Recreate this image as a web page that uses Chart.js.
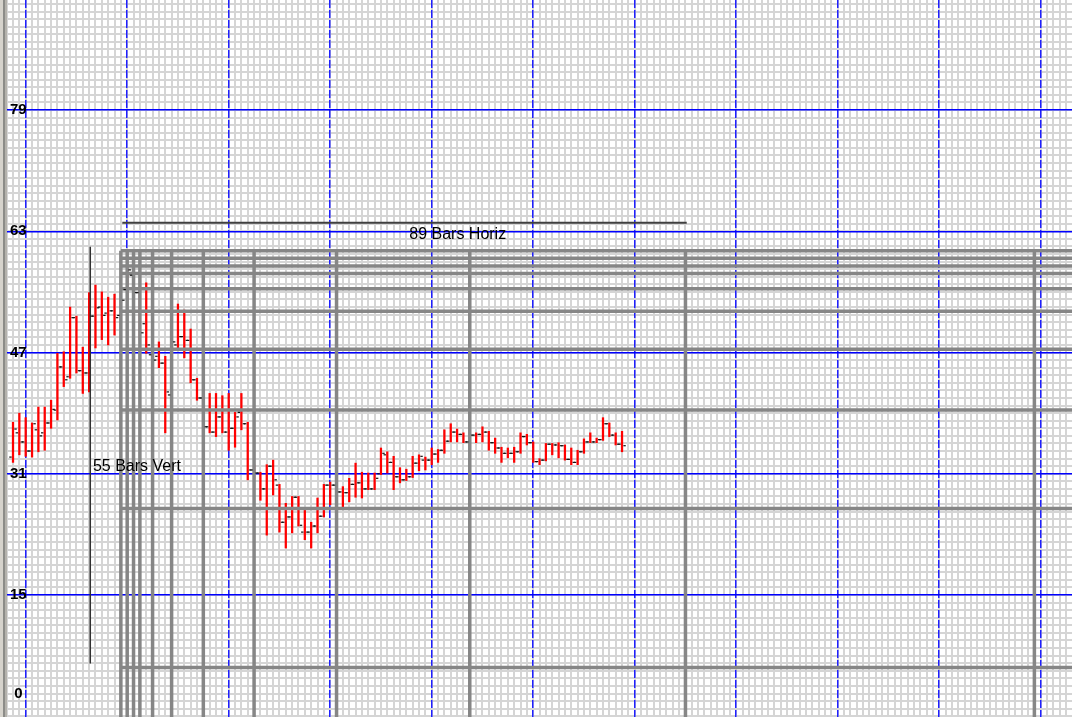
<!DOCTYPE html>
<html>
<head>
<meta charset="utf-8">
<script src="https://cdn.jsdelivr.net/npm/chart.js@4.4.1/dist/chart.umd.min.js"></script>
<style>
  html, body { margin: 0; padding: 0; background: #fff; overflow: hidden; }
  #wrap { position: relative; width: 1072px; height: 717px; }
  #edge { position: absolute; left: 0; top: 0; width: 7px; height: 717px;
    background: linear-gradient(to right, #d6d3cc 0, #d6d3cc 3px, #8c8c88 3px, #8c8c88 5px, #b4b2ac 5px, #b4b2ac 7px); }
</style>
</head>
<body>
<div id="wrap"><canvas id="chart" width="1072" height="717"></canvas><div id="edge"></div></div>
<script>
/* OHLC bar chart with Fibonacci time / price grid */

// ===== data (bar index 0..96) =====
var opens = [
  33.2, 36.4, 35.2, 34.0, 36.8, 36.4, 37.7, 39.4, 45.1, 43.8,
  51.6, 44.6, 44.3, 51.8, 53.0, 52.2, 52.5, 51.9, 55.3, 57.2,
  54.9, 50.8, 46.7, 46.5, 45.6, 41.4, 48.0, 49.1, 48.6, 43.4,
  41.0, 37.2, 36.5, 38.5, 36.5, 37.0, 39.1, 37.6, 31.5, 31.1,
  29.0, 32.0, 29.5, 24.6, 25.3, 27.9, 23.3, 23.3, 24.1, 25.4,
  29.5, 29.5, 28.6, 28.5, 29.6, 29.8, 29.0, 29.0, 31.0, 33.5,
  32.5, 30.6, 30.2, 30.6, 32.4, 32.8, 32.8, 33.6, 34.1, 35.3,
  36.5, 36.2, 35.2, 36.1, 36.2, 36.5, 35.1, 34.4, 33.7, 33.7,
  33.9, 35.9, 35.1, 32.6, 32.8, 34.9, 34.8, 34.7, 32.9, 32.5,
  33.9, 35.2, 35.2, 35.5, 37.6, 36.1, 34.9
];
var highs = [
  37.8, 39.0, 38.4, 37.7, 39.8, 39.8, 40.7, 46.9, 47.1, 53.0,
  51.8, 47.7, 54.9, 55.9, 55.0, 54.3, 54.7, 55.0, 58.6, 58.2,
  55.3, 56.2, 48.7, 48.4, 46.5, 48.7, 53.4, 52.6, 50.1, 43.6,
  41.4, 41.6, 41.6, 41.3, 41.6, 39.1, 41.6, 37.8, 32.2, 31.2,
  32.2, 32.8, 29.6, 27.1, 28.0, 28.0, 26.2, 24.6, 27.8, 29.6,
  29.9, 29.8, 29.3, 30.4, 32.4, 31.2, 31.1, 31.1, 34.4, 33.9,
  33.3, 31.8, 31.6, 33.3, 33.5, 33.2, 34.4, 34.2, 36.8, 37.6,
  36.9, 36.4, 36.8, 36.4, 37.2, 36.6, 35.7, 34.5, 34.4, 34.5,
  36.4, 36.2, 35.2, 33.0, 35.0, 35.0, 35.1, 34.8, 34.4, 34.1,
  35.6, 36.4, 35.7, 38.4, 37.7, 36.4, 36.6
];
var lows = [
  32.5, 33.5, 33.3, 33.2, 33.9, 34.1, 37.0, 38.1, 42.5, 43.6,
  44.3, 41.6, 41.8, 47.6, 48.7, 48.0, 49.3, 50.0, 53.9, 53.9,
  48.7, 46.9, 45.4, 45.0, 36.4, 40.7, 47.6, 46.3, 43.0, 40.7,
  36.8, 36.4, 35.9, 36.4, 34.1, 34.5, 36.8, 30.2, 30.4, 27.5,
  22.9, 28.2, 23.3, 21.2, 23.2, 24.1, 22.3, 21.2, 23.2, 25.3,
  26.9, 27.5, 26.6, 27.3, 27.9, 27.8, 28.9, 28.9, 30.9, 31.1,
  28.9, 29.8, 30.1, 30.5, 31.4, 31.5, 32.2, 32.5, 33.7, 35.2,
  35.2, 35.1, 34.8, 35.1, 35.2, 34.1, 33.7, 32.5, 33.1, 32.5,
  33.7, 34.8, 32.5, 32.2, 32.7, 33.5, 33.1, 32.8, 32.2, 32.2,
  33.7, 35.1, 35.1, 35.4, 35.9, 34.8, 33.9
];
var closes = [
  36.9, 35.2, 34.0, 37.6, 36.0, 37.7, 39.5, 45.1, 43.4, 51.6,
  44.6, 44.3, 51.8, 52.9, 51.9, 52.5, 51.6, 53.9, 57.9, 54.9,
  49.6, 48.0, 46.0, 45.6, 41.8, 48.4, 49.1, 48.6, 43.4, 41.0,
  37.2, 36.5, 38.5, 36.5, 37.0, 38.5, 37.6, 31.5, 31.1, 29.0,
  32.0, 30.2, 24.6, 25.3, 27.9, 24.2, 23.3, 24.1, 25.4, 29.5,
  29.5, 28.6, 28.5, 29.6, 29.8, 29.0, 29.0, 30.4, 33.7, 32.5,
  30.6, 30.2, 30.6, 32.4, 33.3, 32.8, 33.6, 34.1, 35.3, 36.5,
  36.2, 35.2, 36.1, 36.2, 36.5, 35.1, 34.4, 33.7, 33.7, 33.9,
  35.9, 35.1, 32.6, 32.8, 34.9, 34.8, 34.7, 32.9, 32.5, 33.9,
  35.2, 35.2, 35.5, 37.6, 36.1, 34.9, 34.7
];

// grid / axis values
var blueBars = [2, 18, 34, 50, 66, 82, 98, 114, 130, 146, 162];
var blueLevels = [15, 31, 47, 63, 79];
var yLabelValues = [1.9, 15, 31, 47, 63, 79];
var yLabelTexts = ["0", "15", "31", "47", "63", "79"];

// fibonacci grid: origin bar / price, steps right & down
var fibOriginBar = 17;
var fibOriginPrice = 60.43;
var fibSteps = [0, 1, 2, 3, 5, 8, 13, 21, 34, 55, 89, 144];

// measuring lines + their notes
var horizBars = [17.23, 106.2];
var horizPrice = 64.13;
var vertBar = 12.18;
var vertPrices = [60.95, 5.95];
var noteTexts = ["89 Bars Horiz", "55 Bars Vert"];
var noteBars = [70.1, 12.6];
var notePrices = [62.6, 32.0];
var noteAligns = ["center", "left"];

// visible range
var X_MIN = -2.05, X_MAX = 166.93;
var Y_MIN = -1.10, Y_MAX = 93.52;

// ===== datasets =====
var datasets = [];

// red high-low bars
datasets.push({
  type: "bar",
  data: highs.map(function (h, i) { return { x: i, y: [lows[i], h] }; }),
  backgroundColor: "#ff0000",
  borderWidth: 0,
  barThickness: 1.6,
  order: 3,
});

// fib grid lines (vertical + horizontal)
fibSteps.forEach(function (f) {
  datasets.push({
    type: "line",
    data: [{ x: fibOriginBar + f, y: fibOriginPrice }, { x: fibOriginBar + f, y: Y_MIN - 5 }],
    borderColor: "#868686", borderWidth: 3.5, pointRadius: 0, pointHoverRadius: 0, fill: false, order: 2,
  });
  datasets.push({
    type: "line",
    data: [{ x: fibOriginBar, y: fibOriginPrice - f }, { x: X_MAX + 10, y: fibOriginPrice - f }],
    borderColor: "#868686", borderWidth: 3.5, pointRadius: 0, pointHoverRadius: 0, fill: false, order: 2,
  });
});

// measuring lines
datasets.push({
  type: "line",
  data: [{ x: horizBars[0], y: horizPrice }, { x: horizBars[1], y: horizPrice }],
  borderColor: "#404040", borderWidth: 2, pointRadius: 0, pointHoverRadius: 0, fill: false, order: 1,
});
datasets.push({
  type: "line",
  data: [{ x: vertBar, y: vertPrices[0] }, { x: vertBar, y: vertPrices[1] }],
  borderColor: "#303030", borderWidth: 1.5, pointRadius: 0, pointHoverRadius: 0, fill: false, order: 1,
});

// open (left) / close (right) ticks
datasets.push({
  type: "scatter",
  data: opens.map(function (v, i) { return { x: i - 0.4, y: v }; }),
  pointStyle: "line", pointRadius: 1.2, pointHoverRadius: 0, pointBorderWidth: 1.2,
  pointBorderColor: "#111", borderColor: "#111", order: 0,
});
datasets.push({
  type: "scatter",
  data: closes.map(function (v, i) { return { x: i + 0.4, y: v }; }),
  pointStyle: "line", pointRadius: 1.2, pointHoverRadius: 0, pointBorderWidth: 1.2,
  pointBorderColor: "#111", borderColor: "#111", order: 0,
});

// ===== text notes =====
var notesPlugin = {
  id: "notes",
  afterDatasetsDraw: function (chart) {
    var ctx = chart.ctx, xs = chart.scales.x, ys = chart.scales.y;
    ctx.save();
    ctx.font = '16px "Liberation Sans", Arial, sans-serif';
    ctx.fillStyle = "#000";
    ctx.textBaseline = "middle";
    noteTexts.forEach(function (t, k) {
      ctx.textAlign = noteAligns[k];
      ctx.fillText(t, xs.getPixelForValue(noteBars[k]), ys.getPixelForValue(notePrices[k]));
    });
    ctx.restore();
  },
};

// axes take no room: the plot fills the whole canvas
var noRoom = function (s) {
  s.paddingTop = 0; s.paddingBottom = 0; s.paddingLeft = 0; s.paddingRight = 0;
  if (s.isHorizontal()) s.height = 0; else s.width = 0;
};

new Chart(document.getElementById("chart"), {
  type: "bar",
  data: { datasets: datasets },
  plugins: [notesPlugin],
  options: {
    responsive: false,
    animation: false,
    devicePixelRatio: 1,
    events: [],
    layout: { padding: 0, autoPadding: false },
    plugins: { legend: { display: false }, tooltip: { enabled: false } },
    scales: {
      x: {
        type: "linear", axis: "x", position: "bottom", min: X_MIN, max: X_MAX, offset: false,
        ticks: { display: false, stepSize: 1, includeBounds: false },
        grid: { color: "#d5d5d5", lineWidth: 2, drawTicks: false, offset: false, z: -3 },
        border: { display: false },
        afterFit: noRoom,
      },
      xb: {
        type: "linear", axis: "x", position: "bottom", min: X_MIN, max: X_MAX, offset: false,
        ticks: { display: false },
        afterBuildTicks: function (s) { s.ticks = blueBars.map(function (v) { return { value: v }; }); },
        grid: { color: "#1f1fff", lineWidth: 1.5, drawTicks: false, offset: false, z: -2 },
        border: { display: false, dash: [8, 2] },
        afterFit: noRoom,
      },
      y: {
        type: "linear", axis: "y", position: "left", min: Y_MIN, max: Y_MAX,
        ticks: { display: false, stepSize: 1, includeBounds: false },
        grid: { color: "#d5d5d5", lineWidth: 2, drawTicks: false, z: -3 },
        border: { display: false },
        afterFit: noRoom,
      },
      yb: {
        type: "linear", axis: "y", position: "left", min: Y_MIN, max: Y_MAX,
        ticks: { display: false },
        afterBuildTicks: function (s) { s.ticks = blueLevels.map(function (v) { return { value: v }; }); },
        grid: { color: "#0000ff", lineWidth: 1.5, drawTicks: false, z: -2 },
        border: { display: false },
        afterFit: noRoom,
      },
      yl: {
        type: "linear", axis: "y", position: "left", min: Y_MIN, max: Y_MAX,
        afterBuildTicks: function (s) { s.ticks = yLabelValues.map(function (v) { return { value: v }; }); },
        afterFit: noRoom,
        grid: { display: false, drawTicks: false },
        border: { display: false },
        ticks: {
          mirror: true, crossAlign: "center", padding: 10, autoSkip: false, z: 1,
          color: "#000",
          font: { family: '"Liberation Sans", Arial, sans-serif', size: 15, weight: "bold" },
          callback: function (v, i) { return yLabelTexts[i]; },
        },
      },
    },
  },
});
</script>
</body>
</html>
